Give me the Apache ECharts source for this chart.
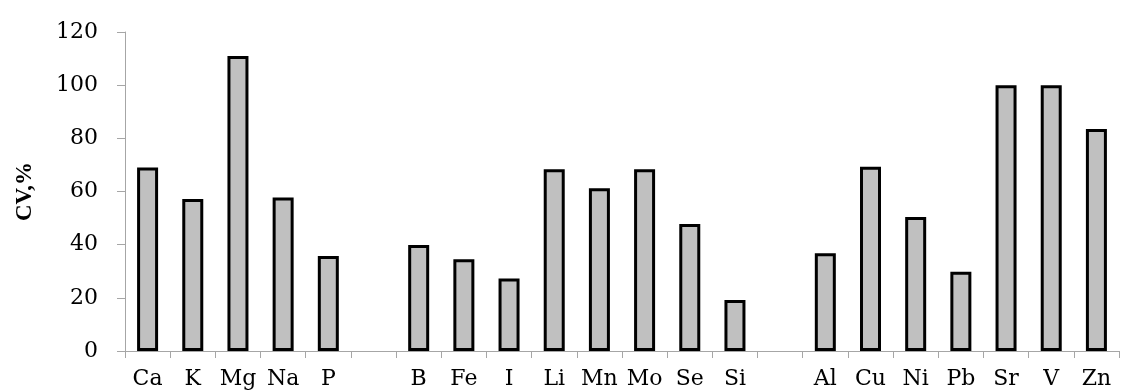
<!DOCTYPE html>
<html>
<head>
<meta charset="utf-8">
<script src="https://cdn.jsdelivr.net/npm/echarts@6/dist/echarts.min.js"></script>
<style>
html,body{margin:0;padding:0;background:#fff;}
#chart{width:1140px;height:390px;}
</style>
</head>
<body>
<div id="chart"></div>
<script>
const categories = ['Ca','K','Mg','Na','P','','B','Fe','I','Li','Mn','Mo','Se','Si','','Al','Cu','Ni','Pb','Sr','V','Zn'];
const cvValues = [69.0,57.2,111.0,57.7,35.7,null,39.9,34.5,27.3,68.4,61.2,68.4,47.8,19.2,null,36.8,69.3,50.4,29.8,100.0,100.0,83.5];
const yTicks = [0,20,40,60,80,100,120];
const yAxisName = 'CV,%';

const chart = echarts.init(document.getElementById('chart'), null, {renderer:'canvas'});
chart.setOption({
  animation:false,
  backgroundColor:'#ffffff',
  grid:{left:125,right:21,top:32,bottom:39,containLabel:false},
  xAxis:{
    type:'category',
    data:categories,
    boundaryGap:true,
    axisLine:{show:true,lineStyle:{color:'#a6a6a6',width:1}},
    axisTick:{show:true,length:7,lineStyle:{color:'#a6a6a6',width:1}},
    axisLabel:{interval:0,margin:17,color:'#000',fontFamily:'DejaVu Serif',fontSize:22},
    splitLine:{show:false}
  },
  yAxis:{
    type:'value',
    min:yTicks[0],
    max:yTicks[yTicks.length-1],
    interval:20,
    name:yAxisName,
    nameLocation:'middle',
    nameGap:88,
    nameTextStyle:{color:'#000',fontFamily:'Liberation Serif',fontWeight:'bold',fontSize:23},
    axisLine:{show:true,lineStyle:{color:'#a6a6a6',width:1}},
    axisTick:{show:true,length:8,lineStyle:{color:'#a6a6a6',width:1}},
    axisLabel:{margin:27,color:'#000',fontFamily:'DejaVu Serif',fontSize:22},
    splitLine:{show:false}
  },
  series:[{
    type:'bar',
    data:cvValues,
    barWidth:21,
    itemStyle:{color:'#c0c0c0',borderColor:'#000',borderWidth:3}
  }]
});
</script>
</body>
</html>
